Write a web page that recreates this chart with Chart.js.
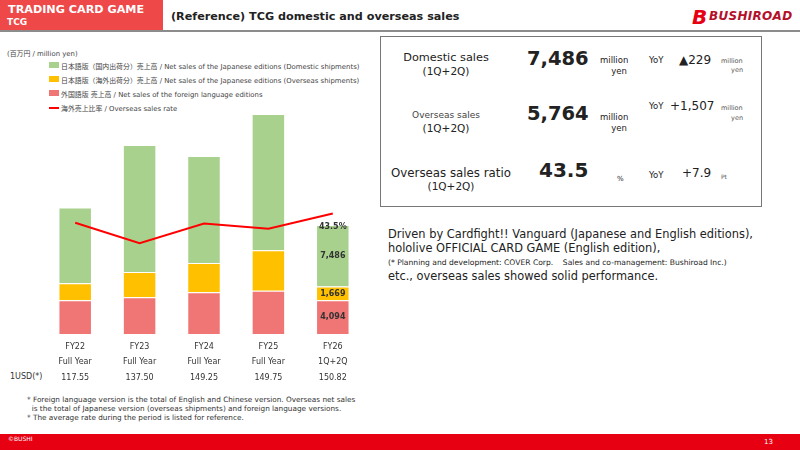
<!DOCTYPE html>
<html>
<head>
<meta charset="utf-8">
<script src="https://cdn.jsdelivr.net/npm/chart.js@4.4.1/dist/chart.umd.min.js"></script>
<style>
  body { margin:0; width:800px; height:450px; position:relative; overflow:hidden; background:#fff;
         font-family:"DejaVu Sans","Noto Sans CJK JP",sans-serif; color:#222; }
  .abs { position:absolute; white-space:nowrap; }
  #hdr { left:0; top:0; width:163px; height:30px; background:#ef4848; color:#fff; font-weight:bold; }
  #rule { left:0; top:30px; width:800px; height:2px; background:#8c8c8c; }
  #box { left:380px; top:36px; width:380px; height:169px; border:1px solid #777; }
  .leg { font-size:6.9px; color:#444; }
  .sw { position:absolute; left:49px; width:10px; height:6px; }
  #wrap { left:43px; top:100px; width:322px; height:285px; }
  .r { text-align:right; }
  #foot { left:0; top:434px; width:800px; height:16px; background:#e60012; }
</style>
</head>
<body>
<div id="hdr" class="abs">
  <div class="abs" style="left:8px;top:3px;font-size:11.2px;">TRADING CARD GAME</div>
  <div class="abs" style="left:7px;top:17px;font-size:9px;">TCG</div>
</div>
<div class="abs" style="left:171px;top:10px;font-size:11.2px;font-weight:bold;">(Reference) TCG domestic and overseas sales</div>
<div class="abs" style="left:692px;top:5px;font-size:20px;font-weight:bold;font-style:italic;color:#e60012;">B</div>
<div class="abs" style="left:709px;top:9px;font-size:12px;font-weight:bold;font-style:italic;color:#b4102a;letter-spacing:0.3px;">BUSHIROAD</div>
<div id="rule" class="abs"></div>

<div class="abs leg" style="left:7px;top:48px;">(百万円 / million yen)</div>
<div class="sw" style="top:62px;background:#a9d18e;"></div>
<div class="abs leg" style="left:61px;top:61px;">日本語版（国内出荷分）売上高 / Net sales of the Japanese editions (Domestic shipments)</div>
<div class="sw" style="top:76px;background:#ffc000;"></div>
<div class="abs leg" style="left:61px;top:75px;">日本語版（海外出荷分）売上高 / Net sales of the Japanese editions (Overseas shipments)</div>
<div class="sw" style="top:90px;background:#f07575;"></div>
<div class="abs leg" style="left:61px;top:89px;">外国語版 売上高 / Net sales of the foreign language editions</div>
<div class="sw" style="top:107px;height:2px;background:#ff0000;"></div>
<div class="abs leg" style="left:61px;top:103px;">海外売上比率 / Overseas sales rate</div>

<div id="wrap" class="abs"><canvas id="c"></canvas></div>
<div class="abs" style="left:10px;top:372px;font-size:8px;color:#333;">1USD(*)</div>

<div class="abs" style="left:27px;top:395px;font-size:7.3px;color:#333;line-height:9px;">
  * Foreign language version is the total of English and Chinese version. Overseas net sales<br>
  &nbsp;&nbsp;is the total of Japanese version (overseas shipments) and foreign language versions.<br>
  * The average rate during the period is listed for reference.
</div>

<div id="box" class="abs">
  <div class="abs" style="left:10px;top:14px;width:110px;text-align:center;font-size:11.3px;">Domestic sales</div>
  <div class="abs" style="left:10px;top:28px;width:110px;text-align:center;font-size:10.5px;">(1Q+2Q)</div>
  <div class="abs" style="left:146px;top:10px;font-size:19.5px;font-weight:bold;">7,486</div>
  <div class="abs" style="left:219px;top:18px;font-size:8.5px;">million</div>
  <div class="abs r" style="left:219px;top:29px;width:27px;font-size:8.5px;">yen</div>
  <div class="abs" style="left:268px;top:18px;font-size:8.5px;">YoY</div>
  <div class="abs" style="left:298px;top:16px;font-size:12px;">▲229</div>
  <div class="abs" style="left:340px;top:20px;font-size:6.5px;color:#555;">million</div>
  <div class="abs r" style="left:340px;top:29px;width:22px;font-size:6.5px;color:#555;">yen</div>

  <div class="abs" style="left:10px;top:73px;width:110px;text-align:center;font-size:9px;color:#444;">Overseas sales</div>
  <div class="abs" style="left:10px;top:85px;width:110px;text-align:center;font-size:10.5px;">(1Q+2Q)</div>
  <div class="abs" style="left:146px;top:65px;font-size:19.5px;font-weight:bold;">5,764</div>
  <div class="abs" style="left:219px;top:75px;font-size:8.5px;">million</div>
  <div class="abs r" style="left:219px;top:86px;width:27px;font-size:8.5px;">yen</div>
  <div class="abs" style="left:268px;top:64px;font-size:8.5px;">YoY</div>
  <div class="abs" style="left:289px;top:62px;font-size:12px;">+1,507</div>
  <div class="abs" style="left:340px;top:67px;font-size:6.5px;color:#555;">million</div>
  <div class="abs r" style="left:340px;top:77px;width:22px;font-size:6.5px;color:#555;">yen</div>

  <div class="abs" style="left:6px;top:129px;width:128px;text-align:center;font-size:11.8px;">Overseas sales ratio</div>
  <div class="abs" style="left:6px;top:143px;width:128px;text-align:center;font-size:10.5px;">(1Q+2Q)</div>
  <div class="abs" style="left:158px;top:121px;font-size:20px;font-weight:bold;">43.5</div>
  <div class="abs" style="left:236px;top:138px;font-size:7px;">%</div>
  <div class="abs" style="left:268px;top:133px;font-size:8.5px;">YoY</div>
  <div class="abs" style="left:301px;top:129px;font-size:12px;">+7.9</div>
  <div class="abs" style="left:340px;top:136px;font-size:6px;color:#555;">Pt</div>
</div>

<div class="abs" style="left:388px;top:228px;font-size:11.4px;line-height:13.5px;">
  Driven by Cardfight!! Vanguard (Japanese and English editions),<br>
  hololive OFFICIAL CARD GAME (English edition),<br>
  <span style="font-size:7.6px;">(* Planning and development: COVER Corp.&nbsp;&nbsp;&nbsp; Sales and co-management: Bushiroad Inc.)</span><br>
  etc., overseas sales showed solid performance.
</div>

<div id="foot" class="abs">
  <div class="abs" style="left:8px;top:1px;font-size:6px;color:#fff;">©BUSHI</div>
  <div class="abs" style="left:764px;top:4px;font-size:7px;color:#fff;">13</div>
</div>

<script>
// values (million yen)
var periods = ['FY22', 'FY23', 'FY24', 'FY25', 'FY26'];
var spans = ['Full Year', 'Full Year', 'Full Year', 'Full Year', '1Q+2Q'];
var usdRate = ['117.55', '137.50', '149.25', '149.75', '150.82'];
var foreignSales = [4100, 4460, 5065, 5260, 4094];
var jpOverseas = [2065, 3075, 3560, 4910, 1669];
var jpDomestic = [9190, 15430, 13000, 16560, 7486];
var overseasRate = [40.2, 32.8, 39.9, 38.0, 43.5];

var labs = [];
for (var i = 0; i < periods.length; i++) {
  labs.push([periods[i], spans[i], usdRate[i]]);
}

// numbers on the last bar
var lastLabels = {
  id: 'lastLabels',
  afterDatasetsDraw: function(chart) {
    var ctx = chart.ctx;
    var n = periods.length - 1;
    ctx.save();
    ctx.font = 'bold 8px "DejaVu Sans"';
    ctx.fillStyle = '#333';
    ctx.textAlign = 'center';
    ctx.textBaseline = 'middle';
    [1, 2, 3].forEach(function(d) {
      var bar = chart.getDatasetMeta(d).data[n];
      var v = chart.data.datasets[d].data[n];
      ctx.fillText(v.toLocaleString('en-US'), bar.x, (bar.y + bar.base) / 2);
    });
    var top = chart.getDatasetMeta(3).data[n];
    ctx.fillText(overseasRate[n].toFixed(1) + '%', top.x, top.y + 2);
    ctx.restore();
  }
};

new Chart(document.getElementById('c'), {
  type: 'bar',
  data: {
    labels: labs,
    datasets: [
      { type: 'line', label: 'Overseas sales rate', data: overseasRate, yAxisID: 'y1',
        borderColor: '#ff0000', borderWidth: 2, pointRadius: 0, fill: false, order: 0 },
      { label: 'Foreign', data: foreignSales, backgroundColor: '#f07575', order: 1 },
      { label: 'JP overseas', data: jpOverseas, backgroundColor: '#ffc000', order: 1 },
      { label: 'JP domestic', data: jpDomestic, backgroundColor: '#a9d18e', order: 1 }
    ]
  },
  plugins: [lastLabels],
  options: {
    responsive: true,
    maintainAspectRatio: false,
    animation: false,
    layout: { padding: 0 },
    datasets: { bar: { barPercentage: 0.52, categoryPercentage: 1, borderColor: '#fff', borderWidth: 1 } },
    plugins: { legend: { display: false }, tooltip: { enabled: false } },
    scales: {
      x: {
        stacked: true,
        grid: { display: false },
        border: { display: false },
        ticks: { color: '#333', padding: -3, font: { family: 'DejaVu Sans', size: 8, lineHeight: 1.95 }, maxRotation: 0 },
        afterFit: function(s) { s.height = 51; }
      },
      y: { stacked: true, display: false, min: 0, max: 28430 },
      y1: { display: false, min: 0, max: 84.5 }
    }
  }
});
</script>
</body>
</html>
